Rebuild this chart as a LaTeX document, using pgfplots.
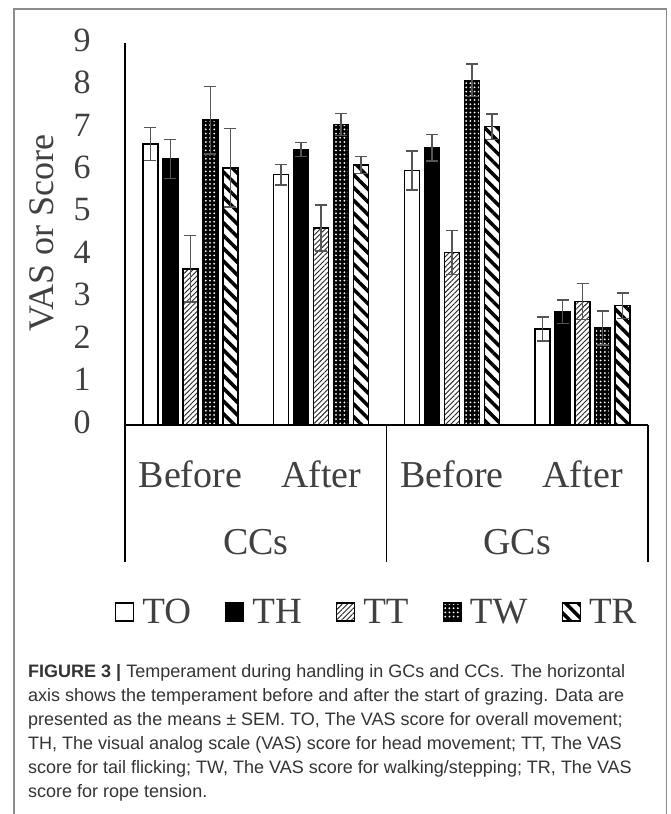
\documentclass[border=0pt]{standalone}
\usepackage{fontspec}
\setmainfont{Liberation Serif}
\newfontfamily\capfont{Liberation Sans}
\usepackage{pgfplots}
\usepackage{pgfplotstable}
\pgfplotsset{compat=1.18}
\usetikzlibrary{patterns,patterns.meta}
\definecolor{txt}{RGB}{64,64,64}
\definecolor{errc}{RGB}{85,85,85}
\definecolor{framec}{RGB}{140,140,140}
\definecolor{captxt}{RGB}{51,51,51}

\pgfplotstableread{
x TO TOe TH THe TT TTe TW TWe TR TRe
0 6.62 0.39 6.27 0.46 3.68 0.78 7.18 0.80 6.06 0.92
1 5.90 0.24 6.49 0.17 4.64 0.54 7.08 0.26 6.12 0.20
2 6.00 0.46 6.53 0.31 4.06 0.52 8.12 0.38 7.03 0.30
3 2.26 0.28 2.67 0.28 2.91 0.42 2.29 0.40 2.81 0.30
}\data

\pgfplotsset{
  leg/.style={legend image code/.code={\draw[##1] (0pt,-9pt) rectangle (18pt,9pt); \path (24pt,0pt);}},
  eb/.style={error bars/.cd, y dir=both, y explicit,
    error bar style={line width=1.5pt, draw=errc, solid},
    error mark options={rotate=90, mark size=6pt, line width=1.5pt, draw=errc}},
}

\begin{document}
\begin{tikzpicture}[x=1pt,y=1pt]
\path[use as bounding box] (0,0) rectangle (670,814);
\draw[framec, line width=1.2pt] (14,-20) -- (14,805) -- (666.5,805) -- (666.5,-20);
\begin{axis}[
  at={(125pt,389pt)}, anchor=south west, scale only axis,
  width=523pt, height=382pt,
  xmin=-0.5, xmax=3.5, ymin=0, ymax=9,
  ybar=5pt, bar width=15pt,
  axis line style={draw=none},
  major tick length=0pt,
  ytick={0,1,2,3,4,5,6,7,8,9},
  xtick={0,1,2,3},
  xticklabels={Before,After,Before,After},
  /pgf/number format/assume math mode=true,
  yticklabel style={font=\fontsize{34}{38}\selectfont, text=txt, anchor=center, xshift=-43pt, yshift=3pt},
  xticklabel style={font=\fontsize{38}{42}\selectfont, text=txt, anchor=center, yshift=-49pt},
  ylabel={VAS or Score},
  ylabel style={at={(axis description cs:-0.159,0.503)}, anchor=center, font=\fontsize{36}{40}\selectfont, text=txt},
  clip=false,
  legend columns=5,
  legend style={at={(axis description cs:0.481,-0.4895)}, anchor=center, draw=none, fill=none,
    font=\fontsize{37}{40}\selectfont, text=txt, inner sep=0pt,
    /tikz/every even column/.append style={column sep=32pt}},
]
\addplot[draw=black, line width=1.5pt, fill=white, leg, eb] table[x=x, y=TO, y error=TOe] {\data};
\addplot[draw=black, line width=1.5pt, fill=black, leg, eb] table[x=x, y=TH, y error=THe] {\data};
\addplot[draw=black, line width=1.5pt, fill=white, postaction={pattern={Lines[angle=45,distance=3.6pt,line width=0.9pt]}, pattern color=black!85}, leg, eb] table[x=x, y=TT, y error=TTe] {\data};
\addplot[draw=black, line width=1.5pt, fill=black, postaction={pattern={Dots[distance=4.2pt,radius=1pt]}, pattern color=white}, leg, eb] table[x=x, y=TW, y error=TWe] {\data};
\addplot[draw=black, line width=1.5pt, fill=white, postaction={pattern={Lines[angle=-45,distance=9pt,line width=3.5pt]}, pattern color=black}, leg, eb] table[x=x, y=TR, y error=TRe] {\data};
\legend{TO,TH,TT,TW,TR}
\draw[line width=1.6pt, black] (axis cs:-0.5,9) -- (axis cs:-0.5,0) -- (axis cs:3.5,0);
\draw[line width=1.6pt, black] (axis cs:-0.5,0) -- ++(0pt,-137pt);
\draw[line width=1.6pt, black] (axis cs:1.5,0) -- ++(0pt,-137pt);
\draw[line width=1.6pt, black] (axis cs:3.5,0) -- ++(0pt,-137pt);
\node[font=\fontsize{38}{42}\selectfont, text=txt] at ([yshift=-117pt]axis cs:0.5,0) {CCs};
\node[font=\fontsize{38}{42}\selectfont, text=txt] at ([yshift=-117pt]axis cs:2.5,0) {GCs};
\end{axis}
\node[anchor=north west, inner sep=0pt, align=left, text=captxt,
  font=\capfont\fontsize{18}{24}\selectfont] at (28,150)
{\textbf{FIGURE 3 |} Temperament during handling in GCs and CCs. The horizontal\\
axis shows the temperament before and after the start of grazing. Data are\\
presented as the means ± SEM. TO, The VAS score for overall movement;\\
TH, The visual analog scale (VAS) score for head movement; TT, The VAS\\
score for tail flicking; TW, The VAS score for walking/stepping; TR, The VAS\\
score for rope tension.};
\end{tikzpicture}
\end{document}
